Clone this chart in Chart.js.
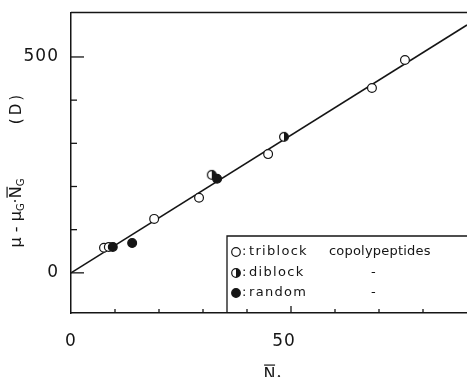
<!DOCTYPE html>
<html>
<head>
<meta charset="utf-8">
<script src="https://cdn.jsdelivr.net/npm/chart.js@4.4.0/dist/chart.umd.min.js"></script>
<style>
  html, body { margin: 0; padding: 0; background: #fff; }
</style>
</head>
<body>
<canvas id="chart" width="467" height="377"></canvas>
<script>
// values
const triblockX = [7.5, 8.6, 18.9, 29.1, 44.8, 68.4, 75.9];
const triblockY = [58, 60, 125, 174, 275, 428, 493];
const diblockX = [32.0, 48.4];
const diblockY = [227, 315];
const randomX = [9.5, 13.9, 33.2];
const randomY = [60, 69, 218];
const fitX = [0, 90];
const fitY = [0, 574];

const xTicks = [10, 20, 30, 40, 50, 60, 70, 80];
const yTicks = [0, 100, 200, 300, 400, 500];
const xTickLabels = [0, 50];
const yTickLabels = [0, 500];

const INK = '#151515';

function toPoints(xs, ys) {
    return xs.map((x, i) => ({ x: x, y: ys[i] }));
}

// half filled marker (right half black)
function halfMarker() {
    const c = document.createElement('canvas');
    c.width = 12; c.height = 12;
    const g = c.getContext('2d');
    g.beginPath();
    g.arc(6, 6, 4.4, 0, Math.PI * 2);
    g.fillStyle = '#fff';
    g.fill();
    g.beginPath();
    g.moveTo(6, 6);
    g.arc(6, 6, 4.4, -Math.PI / 2, Math.PI / 2);
    g.closePath();
    g.fillStyle = INK;
    g.fill();
    g.beginPath();
    g.arc(6, 6, 4.4, 0, Math.PI * 2);
    g.lineWidth = 1.2;
    g.strokeStyle = INK;
    g.stroke();
    return c;
}

function drawPieces(ctx, pieces, cx, cy) {
    let total = 0;
    pieces.forEach(p => {
        ctx.font = p.size + 'px "DejaVu Sans"';
        p.w = ctx.measureText(p.t).width;
        total += p.w;
    });
    let x = cx - total / 2;
    pieces.forEach(p => {
        ctx.font = p.size + 'px "DejaVu Sans"';
        ctx.fillText(p.t, x, cy + (p.dy || 0));
        if (p.over) {
            ctx.beginPath();
            ctx.moveTo(x + 0.5, cy - p.size * 0.62);
            ctx.lineTo(x + p.w - 0.5, cy - p.size * 0.62);
            ctx.lineWidth = 1.2;
            ctx.stroke();
        }
        x += p.w;
    });
}

const decor = {
    id: 'decor',
    afterDraw(chart) {
        const ctx = chart.ctx;
        const a = chart.chartArea;
        const xs = chart.scales.x;
        const ys = chart.scales.y;
        ctx.save();
        ctx.strokeStyle = INK;
        ctx.fillStyle = INK;

        // top frame line
        ctx.lineWidth = 1.5;
        ctx.beginPath();
        ctx.moveTo(a.left, a.top);
        ctx.lineTo(a.right, a.top);
        ctx.stroke();

        // inward ticks
        ctx.lineWidth = 1.3;
        xTicks.forEach(v => {
            const px = xs.getPixelForValue(v);
            const len = v % 50 === 0 ? 7 : 4;
            ctx.beginPath();
            ctx.moveTo(px, a.bottom);
            ctx.lineTo(px, a.bottom - len);
            ctx.stroke();
        });
        yTicks.forEach(v => {
            const py = ys.getPixelForValue(v);
            const len = v % 500 === 0 ? 13 : 6;
            ctx.beginPath();
            ctx.moveTo(a.left, py);
            ctx.lineTo(a.left + len, py);
            ctx.stroke();
        });

        // tick labels
        ctx.font = '17px "DejaVu Sans"';
        ctx.letterSpacing = '1px';
        ctx.textBaseline = 'middle';
        ctx.textAlign = 'right';
        yTickLabels.forEach(v => {
            ctx.fillText(String(v), a.left - 12, ys.getPixelForValue(v));
        });
        ctx.textAlign = 'center';
        xTickLabels.forEach(v => {
            const off = v === 0 ? 0 : -7;
            ctx.fillText(String(v), xs.getPixelForValue(v) + off, a.bottom + 29);
        });
        ctx.letterSpacing = '0px';

        // y axis title
        ctx.save();
        ctx.translate(17, 213);
        ctx.rotate(-Math.PI / 2);
        ctx.textAlign = 'left';
        drawPieces(ctx, [
            { t: 'μ', size: 16 },
            { t: ' - ', size: 16 },
            { t: 'μ', size: 16 },
            { t: 'G', size: 10, dy: 4 },
            { t: '·', size: 16 },
            { t: 'N', size: 16, over: true },
            { t: 'G', size: 10, dy: 4 }
        ], 0, 0);
        ctx.restore();
        ctx.save();
        ctx.translate(17, 108);
        ctx.rotate(-Math.PI / 2);
        ctx.textAlign = 'center';
        ctx.font = '15px "DejaVu Sans"';
        ctx.letterSpacing = '3px';
        ctx.fillText('(D)', 0, 0);
        ctx.restore();

        // x axis title
        ctx.textAlign = 'left';
        drawPieces(ctx, [
            { t: 'N', size: 16, over: true },
            { t: 'A', size: 10, dy: 5 }
        ], 273, 375);

        // legend box
        const bx = 227, by = 236;
        ctx.lineWidth = 1.3;
        ctx.beginPath();
        ctx.moveTo(bx, a.bottom);
        ctx.lineTo(bx, by);
        ctx.lineTo(a.right, by);
        ctx.stroke();

        const rows = [
            { y: 252, kind: 'open', name: 'triblock', tail: 'copolypeptides' },
            { y: 273, kind: 'half', name: 'diblock', tail: '-' },
            { y: 293, kind: 'full', name: 'random', tail: '-' }
        ];
        rows.forEach(r => {
            const cx = 236;
            ctx.lineWidth = 1.2;
            ctx.beginPath();
            ctx.arc(cx, r.y, 4.3, 0, Math.PI * 2);
            ctx.fillStyle = r.kind === 'full' ? INK : '#fff';
            ctx.fill();
            if (r.kind === 'half') {
                ctx.beginPath();
                ctx.moveTo(cx, r.y);
                ctx.arc(cx, r.y, 4.3, -Math.PI / 2, Math.PI / 2);
                ctx.closePath();
                ctx.fillStyle = INK;
                ctx.fill();
                ctx.beginPath();
                ctx.arc(cx, r.y, 4.3, 0, Math.PI * 2);
            }
            ctx.stroke();
            ctx.fillStyle = INK;
            ctx.font = '13px "DejaVu Sans"';
            ctx.textBaseline = 'middle';
            ctx.letterSpacing = '0px';
            ctx.fillText(':', 242, r.y);
            ctx.letterSpacing = '1.3px';
            ctx.fillText(r.name, 249, r.y);
            ctx.letterSpacing = r.tail === '-' ? '0px' : '0.2px';
            ctx.fillText(r.tail, r.tail === '-' ? 371 : 329, r.y);
        });
        ctx.restore();
    }
};

new Chart(document.getElementById('chart').getContext('2d'), {
    type: 'scatter',
    data: {
        datasets: [
            {
                label: 'fit',
                type: 'line',
                data: toPoints(fitX, fitY),
                borderColor: INK,
                borderWidth: 1.6,
                pointRadius: 0,
                fill: false,
                order: 10
            },
            {
                label: 'triblock copolypeptides',
                data: toPoints(triblockX, triblockY),
                pointStyle: 'circle',
                pointRadius: 4.4,
                backgroundColor: '#fff',
                borderColor: INK,
                borderWidth: 1.2,
                order: 1
            },
            {
                label: 'diblock',
                data: toPoints(diblockX, diblockY),
                pointStyle: halfMarker(),
                order: 1
            },
            {
                label: 'random',
                data: toPoints(randomX, randomY),
                pointStyle: 'circle',
                pointRadius: 4.4,
                backgroundColor: INK,
                borderColor: INK,
                borderWidth: 1.2,
                order: 0
            }
        ]
    },
    options: {
        responsive: false,
        animation: false,
        layout: { autoPadding: false, padding: { top: 12.5, right: 0, bottom: 0, left: 0 } },
        plugins: { legend: { display: false }, tooltip: { enabled: false } },
        scales: {
            x: {
                type: 'linear',
                min: 0,
                max: 90,
                grid: { display: false },
                border: { color: INK, width: 1.5 },
                ticks: { display: false },
                afterFit: s => { s.height = 64; }
            },
            y: {
                type: 'linear',
                min: -93,
                max: 603,
                grid: { display: false },
                border: { color: INK, width: 1.5 },
                ticks: { display: false },
                afterFit: s => { s.width = 71; }
            }
        }
    },
    plugins: [decor]
});
</script>
</body>
</html>
